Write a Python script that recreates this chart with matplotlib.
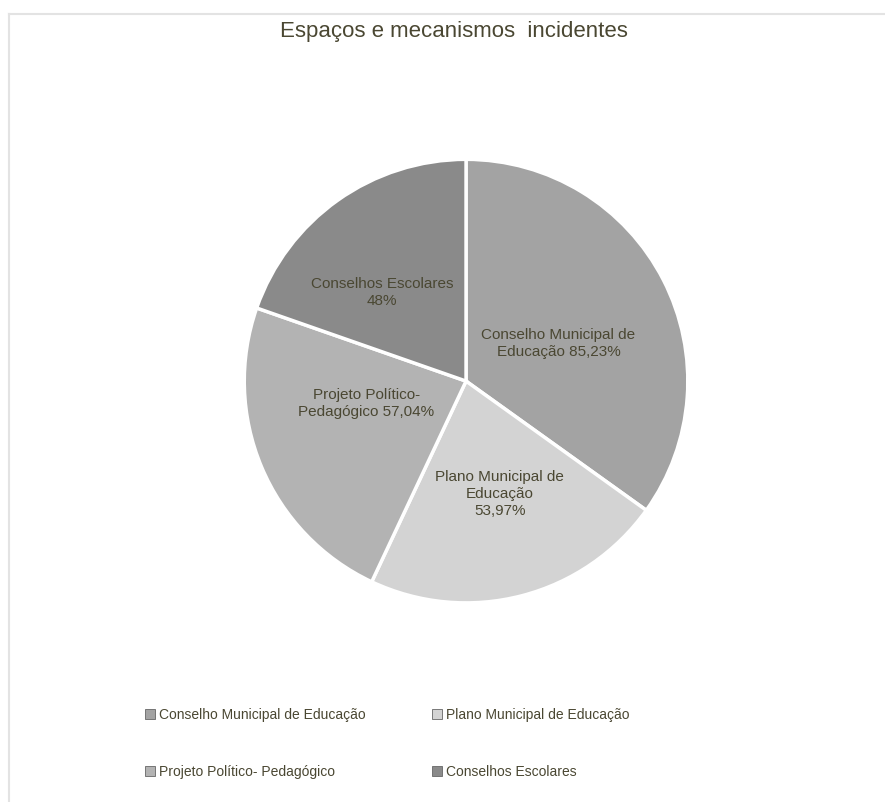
import matplotlib.pyplot as plt
from matplotlib.patches import Patch
from matplotlib.lines import Line2D
import numpy as np

plt.rcParams['font.family'] = ['Liberation Sans', 'DejaVu Sans']

categories = ['Conselho Municipal de Educação', 'Plano Municipal de Educação',
              'Projeto Político- Pedagógico', 'Conselhos Escolares']
values = [85.23, 53.97, 57.04, 48]
slice_labels = ['Conselho Municipal de\nEducação 85,23%',
                'Plano Municipal de\nEducação\n53,97%',
                'Projeto Político-\nPedagógico 57,04%',
                'Conselhos Escolares\n48%']
colors = ['#a3a3a3', '#d3d3d3', '#b3b3b3', '#8a8a8a']
text_color = '#4a4732'

# label placement (fraction of radius, angle shift in degrees)
label_r = [0.45, 0.53, 0.46, 0.55]
label_shift = [-5, 2, -10, 8]

fig = plt.figure(figsize=(8.85, 8.02), dpi=100)

# chart frame lines (top and left)
fig.add_artist(Line2D([8.5/885, 1], [1-13.5/802, 1-13.5/802], color='#e3e3e3', lw=1.5))
fig.add_artist(Line2D([8.5/885, 8.5/885], [0, 1-13.5/802], color='#e3e3e3', lw=1.5))

ax = fig.add_axes([0.2735, 0.2455, 0.5062, 0.5586])
wedges, _ = ax.pie(values, colors=colors, startangle=90, counterclock=False,
                   radius=1, wedgeprops=dict(edgecolor='white', linewidth=2.5))

for w, lab, r, s in zip(wedges, slice_labels, label_r, label_shift):
    ang = np.deg2rad((w.theta1 + w.theta2) / 2 + s)
    ax.text(r * np.cos(ang), r * np.sin(ang), lab, ha='center', va='center',
            fontsize=11, color=text_color, linespacing=1.25)

ax.set_xlim(-1.01, 1.01)
ax.set_ylim(-1.01, 1.01)
ax.set_aspect('equal')
ax.axis('off')

fig.text(0.513, 1-32/802, 'Espaços e mecanismos  incidentes', ha='center', va='center',
         fontsize=16, color=text_color)

# legend filled row by row like the original
handles = [Patch(facecolor=c, edgecolor='#666666', linewidth=0.6) for c in colors]
order = [0, 2, 1, 3]
fig.legend([handles[i] for i in order], [categories[i] for i in order],
           loc='center', bbox_to_anchor=(0.4375, 1-743.5/802),
           ncol=2, frameon=False, fontsize=10, handlelength=0.7, handleheight=0.7,
           handletextpad=0.3, columnspacing=4.8, labelspacing=3.1,
           labelcolor=text_color)

fig.savefig('out.png', dpi=100, facecolor='white')
